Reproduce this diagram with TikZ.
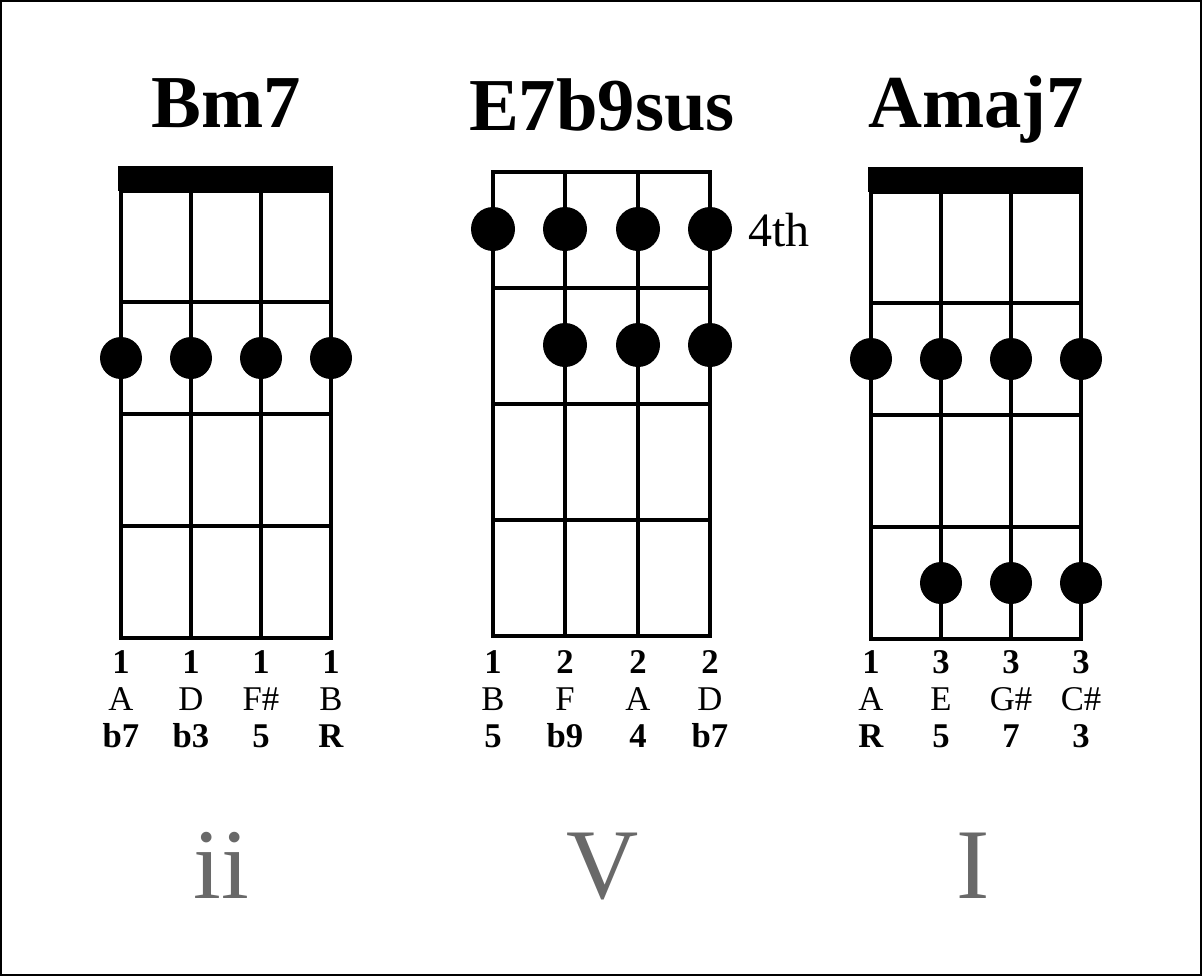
\documentclass[tikz,border=0pt]{standalone}
\usepackage{fontspec}
\setmainfont{Liberation Serif}

\begin{document}
\begin{tikzpicture}[x=0.75pt,y=0.75pt,yscale=-1,xscale=1,
  fret/.style={line width=3.2pt},
  fingerdot/.style={fill=black},
  chordname/.style={anchor=base,font=\fontsize{56}{60}\selectfont\bfseries},
  stringlbl/.style={anchor=base,align=center,font=\fontsize{26}{27.5}\selectfont},
  degree/.style={anchor=base,text={rgb,255:red,105;green,105;blue,105},font=\fontsize{75}{80}\selectfont}]
\useasboundingbox (0,0) rectangle (1202,976);

%Shape: Rectangle [frame]
\draw [line width=1.2pt] (1,1) rectangle (1201,975);

%Text: chord names
\node [chordname] (bmName) at (226,127) {Bm7};
\node [chordname] (eName) at (602,130) {E7b9sus};
\node [chordname] (aName) at (976,127) {Amaj7};

%Shape: Rectangle [Bm7 nut]
\fill (118,166) rectangle (333,191);
%Straight Lines [Bm7 grid]
\draw [fret] (121,191) rectangle (331,638);
\draw [fret] (121,302) -- (331,302);
\draw [fret] (121,414) -- (331,414);
\draw [fret] (121,526) -- (331,526);
\draw [fret] (191,191) -- (191,638);
\draw [fret] (261,191) -- (261,638);
%Shape: Circle [Bm7 dots]
\fill [fingerdot] (121,358) circle (21);
\fill [fingerdot] (191,358) circle (21);
\fill [fingerdot] (261,358) circle (21);
\fill [fingerdot] (331,358) circle (21);

%Straight Lines [E7b9sus grid]
\draw [fret] (493,172) rectangle (710,636);
\draw [fret] (493,288) -- (710,288);
\draw [fret] (493,404) -- (710,404);
\draw [fret] (493,520) -- (710,520);
\draw [fret] (565,172) -- (565,636);
\draw [fret] (638,172) -- (638,636);
%Shape: Circle [E7b9sus dots]
\fill [fingerdot] (493,229) circle (22);
\fill [fingerdot] (565,229) circle (22);
\fill [fingerdot] (638,229) circle (22);
\fill [fingerdot] (710,229) circle (22);
\fill [fingerdot] (565,345) circle (22);
\fill [fingerdot] (638,345) circle (22);
\fill [fingerdot] (710,345) circle (22);
%Text: position
\node [anchor=base west,inner sep=0,font=\fontsize{36}{40}\selectfont] (ePos) at (748,246) {4th};

%Shape: Rectangle [Amaj7 nut]
\fill (868,167) rectangle (1083,192);
%Straight Lines [Amaj7 grid]
\draw [fret] (871,192) rectangle (1081,639);
\draw [fret] (871,303) -- (1081,303);
\draw [fret] (871,415) -- (1081,415);
\draw [fret] (871,527) -- (1081,527);
\draw [fret] (941,192) -- (941,639);
\draw [fret] (1011,192) -- (1011,639);
%Shape: Circle [Amaj7 dots]
\fill [fingerdot] (871,359) circle (21);
\fill [fingerdot] (941,359) circle (21);
\fill [fingerdot] (1011,359) circle (21);
\fill [fingerdot] (1081,359) circle (21);
\fill [fingerdot] (941,583) circle (21);
\fill [fingerdot] (1011,583) circle (21);
\fill [fingerdot] (1081,583) circle (21);

%Text: string labels (anchored at the last line)
\node [stringlbl] (bmS1) at (121,747) {\textbf{1}\\A\\\textbf{b7}};
\node [stringlbl] (bmS2) at (191,747) {\textbf{1}\\D\\\textbf{b3}};
\node [stringlbl] (bmS3) at (261,747) {\textbf{1}\\F\#\\\textbf{5}};
\node [stringlbl] (bmS4) at (331,747) {\textbf{1}\\B\\\textbf{R}};

\node [stringlbl] (eS1) at (493,747) {\textbf{1}\\B\\\textbf{5}};
\node [stringlbl] (eS2) at (565,747) {\textbf{2}\\F\\\textbf{b9}};
\node [stringlbl] (eS3) at (638,747) {\textbf{2}\\A\\\textbf{4}};
\node [stringlbl] (eS4) at (710,747) {\textbf{2}\\D\\\textbf{b7}};

\node [stringlbl] (aS1) at (871,747) {\textbf{1}\\A\\\textbf{R}};
\node [stringlbl] (aS2) at (941,747) {\textbf{3}\\E\\\textbf{5}};
\node [stringlbl] (aS3) at (1011,747) {\textbf{3}\\G\#\\\textbf{7}};
\node [stringlbl] (aS4) at (1081,747) {\textbf{3}\\C\#\\\textbf{3}};

%Text: roman numerals
\node [degree] (bmDeg) at (221,898) {ii};
\node [degree] (eDeg) at (603,898) {V};
\node [degree] (aDeg) at (973,898) {I};

\end{tikzpicture}
\end{document}
